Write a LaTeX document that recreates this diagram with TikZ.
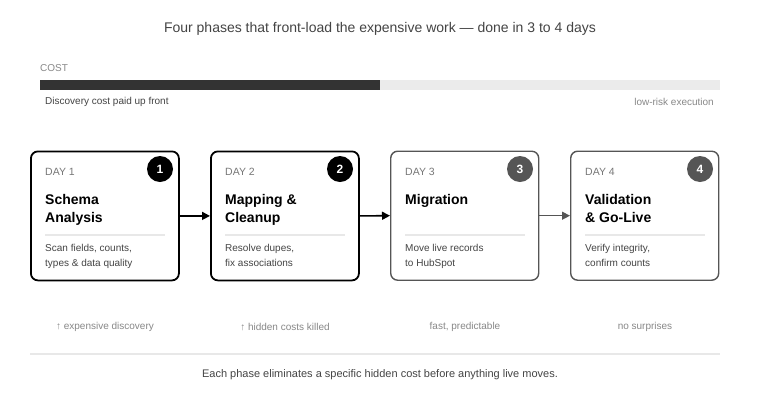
\documentclass[tikz,border=0pt]{standalone}
\usepackage{fontspec}
\setmainfont{Liberation Sans}
\usetikzlibrary{arrows.meta}
\definecolor{bardark}{HTML}{333333}
\definecolor{barlight}{HTML}{EBEBEB}
\definecolor{txtgray}{HTML}{888888}
\definecolor{txtdark}{HTML}{444444}
\definecolor{daygray}{HTML}{777777}
\definecolor{boxgray}{HTML}{555555}
\definecolor{divgray}{HTML}{E8E8E8}
\tikzset{
  phasebox/.style={draw=black, line width=1.8pt, rounded corners=7pt, minimum width=148pt, minimum height=129pt, inner sep=0pt},
  phaseboxlight/.style={phasebox, draw=boxgray, line width=1.4pt},
  badge/.style={circle, fill=black, text=white, minimum size=26pt, inner sep=0pt, font=\fontsize{12}{14}\selectfont\bfseries},
  badgelight/.style={badge, fill=boxgray},
  daylbl/.style={anchor=west, text=daygray, font=\fontsize{10.5}{12}\selectfont},
  ttl/.style={anchor=north west, align=left, text=black, font=\fontsize{14}{18}\selectfont\bfseries, inner sep=0pt},
  desc/.style={anchor=north west, align=left, text=txtdark, font=\fontsize{10}{15}\selectfont, inner sep=0pt},
  note/.style={text=txtgray, font=\fontsize{10}{12}\selectfont},
  flow/.style={-{Triangle[length=8pt,width=8pt]}, line width=1.6pt, black},
  flowlight/.style={flow, draw=boxgray, -{Triangle[length=8pt,width=8pt,fill=boxgray]}, line width=1.3pt},
}
\begin{document}
\begin{tikzpicture}[x=1pt,y=-1pt]
\useasboundingbox (0,0) rectangle (760,400);
\fill[white] (0,0) rectangle (760,400);
% title
\node[text=txtdark, font=\fontsize{14}{16}\selectfont] (title) at (380,29) {Four phases that front-load the expensive work — done in 3 to 4 days};
% cost bar
\node[anchor=west, text=txtgray, font=\fontsize{10}{12}\selectfont, inner sep=0pt] (costlbl) at (40,68) {COST};
\fill[barlight] (40,80) rectangle (720,90);
\fill[bardark] (40,80) rectangle (380,90);
\node[anchor=west, text=txtdark, font=\fontsize{10}{11}\selectfont, inner sep=0pt] (disc) at (45,102) {Discovery cost paid up front};
\node[anchor=east, text=txtgray, font=\fontsize{10}{11}\selectfont, inner sep=0pt] (lowrisk) at (714,102) {low-risk execution};
% boxes
\foreach \i/\x/\st/\bs/\day/\ttltext/\desctext in {
  1/30/phasebox/badge/DAY 1/{Schema\\Analysis}/{Scan fields, counts,\\types \& data quality},
  2/210/phasebox/badge/DAY 2/{Mapping \&\\Cleanup}/{Resolve dupes,\\fix associations},
  3/390/phaseboxlight/badgelight/DAY 3/{Migration}/{Move live records\\to HubSpot},
  4/570/phaseboxlight/badgelight/DAY 4/{Validation\\\& Go-Live}/{Verify integrity,\\confirm counts}}{
  \node[\st, anchor=north west] (box\i) at (\x,150.5) {};
  \node[\bs] (num\i) at (\x+130,169) {\i};
  \node[daylbl, inner sep=0pt] (day\i) at (\x+15,172) {\day};
  \node[ttl] (ttl\i) at (\x+15,194) {\ttltext};
  \draw[divgray, line width=1.2pt] (\x+15,235) -- (\x+135,235);
  \node[desc] (desc\i) at (\x+15,244) {\desctext};
}
% arrows
\draw[flow] (box1.east) -- (box2.west);
\draw[flow] (box2.east) -- (box3.west);
\draw[flowlight] (box3.east) -- (box4.west);
% bottom notes
\node[note] (n1) at (105,327) {↑ expensive discovery};
\node[note] (n2) at (285,327) {↑ hidden costs killed};
\node[note] (n3) at (465,327) {fast, predictable};
\node[note] (n4) at (645,327) {no surprises};
\draw[divgray, line width=1.2pt] (30,354) -- (720,354);
\node[text=txtdark, font=\fontsize{11}{13}\selectfont] (caption) at (380,375) {Each phase eliminates a specific hidden cost before anything live moves.};
\end{tikzpicture}
\end{document}
